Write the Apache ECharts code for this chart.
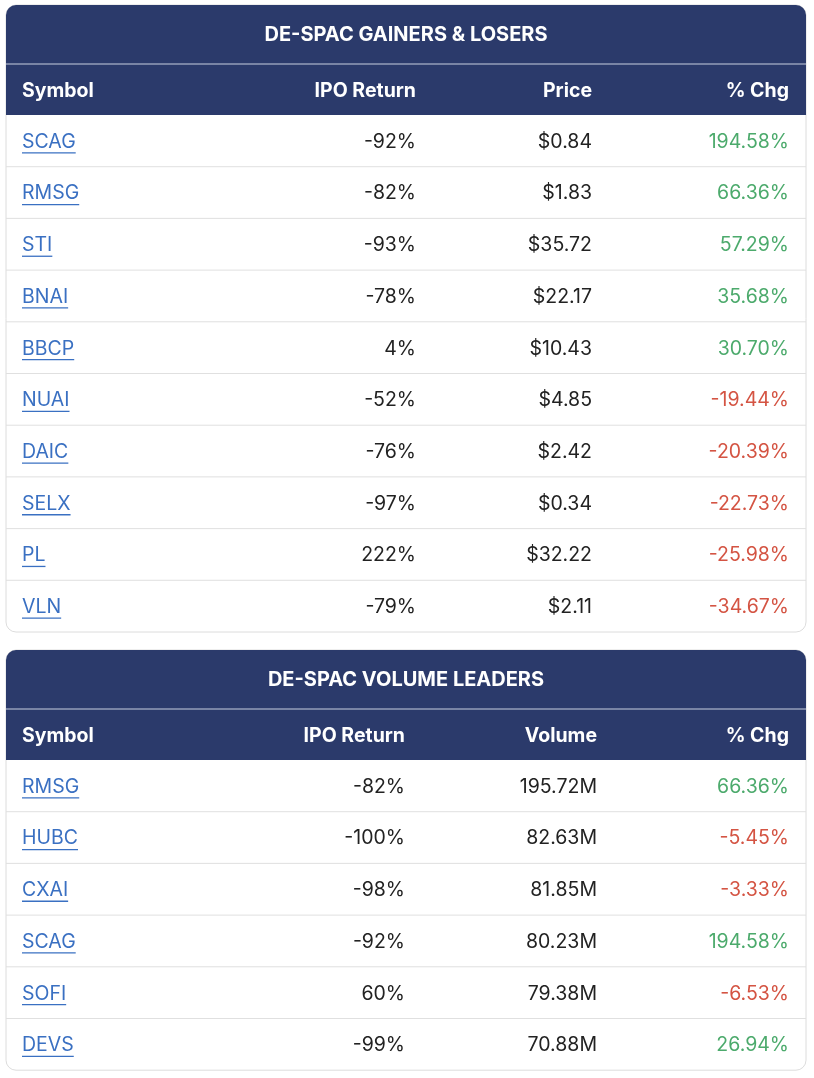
<!DOCTYPE html>
<html><head><meta charset="utf-8">
<script src="https://cdn.jsdelivr.net/npm/echarts@6/dist/echarts.min.js"></script>
<style>html,body{margin:0;padding:0;background:#fff}#c{width:814px;height:1078px}</style>
</head><body><div id="c"></div>
<script>
const t1Title = "DE-SPAC GAINERS & LOSERS";
const t1Headers = ["Symbol","IPO Return","Price","% Chg"];
const t1Symbols = ["SCAG","RMSG","STI","BNAI","BBCP","NUAI","DAIC","SELX","PL","VLN"];
const t1Ipo = ["-92%","-82%","-93%","-78%","4%","-52%","-76%","-97%","222%","-79%"];
const t1Price = ["$0.84","$1.83","$35.72","$22.17","$10.43","$4.85","$2.42","$0.34","$32.22","$2.11"];
const t1Chg = [194.58,66.36,57.29,35.68,30.70,-19.44,-20.39,-22.73,-25.98,-34.67];

const t2Title = "DE-SPAC VOLUME LEADERS";
const t2Headers = ["Symbol","IPO Return","Volume","% Chg"];
const t2Symbols = ["RMSG","HUBC","CXAI","SCAG","SOFI","DEVS"];
const t2Ipo = ["-82%","-100%","-98%","-92%","60%","-99%"];
const t2Volume = ["195.72M","82.63M","81.85M","80.23M","79.38M","70.88M"];
const t2Chg = [66.36,-5.45,-3.33,194.58,-6.53,26.94];

const NAVY="#2b3a6b", FONT="Inter, 'Noto Sans', sans-serif", FS='19.5px ';
const cv=document.createElement('canvas').getContext('2d'); cv.font=FS+FONT;
function table(top, title, headers, syms, c2, c3, chg, colX){
  const els=[]; const rowH=51.7; const L=6,R=806,W=R-L;
  const h = 59+51+rowH*syms.length;
  els.push({type:'rect',shape:{x:L,y:top,width:W,height:h,r:10},style:{fill:'#fff',stroke:'#dcdcdc',lineWidth:1}});
  els.push({type:'rect',shape:{x:L,y:top,width:W,height:110,r:[10,10,0,0]},style:{fill:NAVY}});
  els.push({type:'line',shape:{x1:L,y1:top+59,x2:R,y2:top+59},style:{stroke:'#c9cfe0',lineWidth:1}});
  els.push({type:'text',x:406,y:top+30,style:{text:title,fill:'#fff',font:'bold 20px '+FONT,align:'center',verticalAlign:'middle'}});
  headers.forEach((hd,i)=>{
    els.push({type:'text',x:i===0?22:colX[i-1],y:top+86,style:{text:hd,fill:'#fff',font:'bold '+FS+FONT,align:i===0?'left':'right',verticalAlign:'middle'}});
  });
  syms.forEach((s,r)=>{
    const y0=top+110+rowH*r, cy=y0+rowH/2+1;
    if(r>0) els.push({type:'line',shape:{x1:L,y1:y0,x2:R,y2:y0},style:{stroke:'#e0e0e0',lineWidth:1}});
    els.push({type:'text',x:22,y:cy,style:{text:s,fill:'#3a70c2',font:FS+FONT,align:'left',verticalAlign:'middle'}});
    els.push({type:'line',shape:{x1:22,y1:cy+11,x2:22+cv.measureText(s).width,y2:cy+11},style:{stroke:'#3a70c2',lineWidth:1.3}});
    els.push({type:'text',x:colX[0],y:cy,style:{text:c2[r],fill:'#222',font:FS+FONT,align:'right',verticalAlign:'middle'}});
    els.push({type:'text',x:colX[1],y:cy,style:{text:c3[r],fill:'#222',font:FS+FONT,align:'right',verticalAlign:'middle'}});
    const v=chg[r];
    els.push({type:'text',x:colX[2],y:cy,style:{text:v.toFixed(2)+'%',fill:v>=0?'#4caa6c':'#d45443',font:FS+FONT,align:'right',verticalAlign:'middle'}});
  });
  return els;
}
const chart=echarts.init(document.getElementById('c'));
const els=[].concat(
  table(5,t1Title,t1Headers,t1Symbols,t1Ipo,t1Price,t1Chg,[416,592,789]),
  table(650,t2Title,t2Headers,t2Symbols,t2Ipo,t2Volume,t2Chg,[405,597,789])
);
chart.setOption({graphic:{elements:els}});
</script></body></html>
